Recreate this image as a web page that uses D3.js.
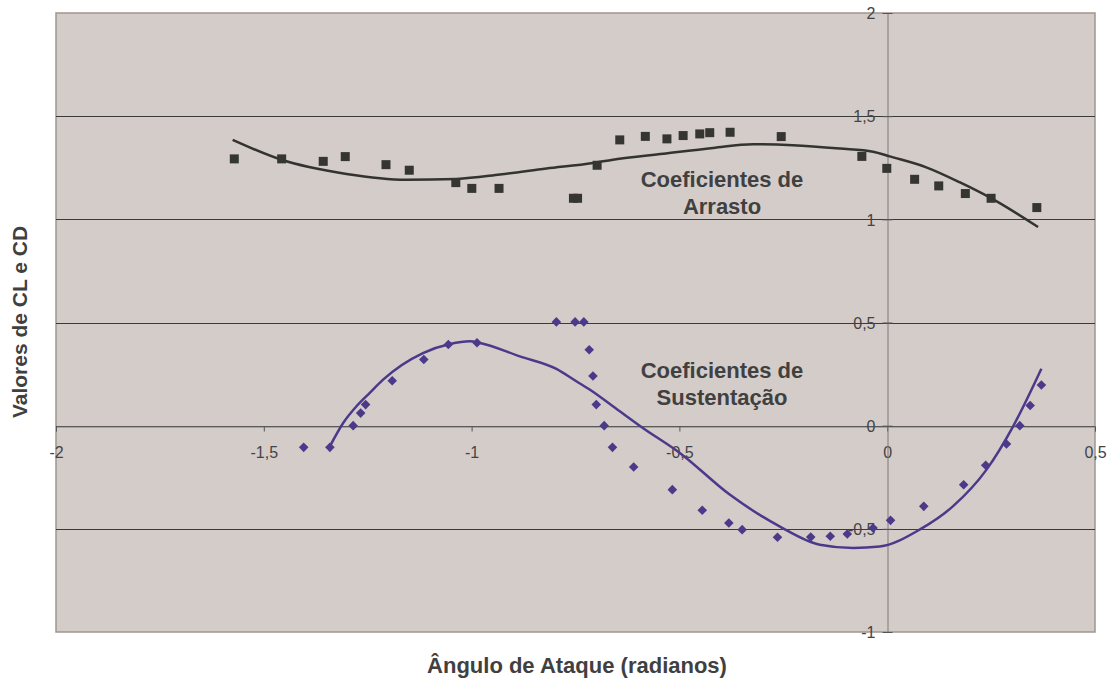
<!DOCTYPE html>
<html><head><meta charset="utf-8">
<script src="https://cdn.jsdelivr.net/npm/d3@7/dist/d3.min.js"></script>
<style>body{margin:0;background:#fff}svg{display:block}text{font-family:"Liberation Sans",Arial,sans-serif}</style>
</head><body><svg id="c" width="1113" height="679"></svg>
<script>
// Drag coefficient measurements (x: angle rad, y: CD)
const dragX = [-1.571,-1.457,-1.357,-1.304,-1.206,-1.150,-1.038,-0.9995,-0.934,-0.755,-0.745,-0.698,-0.6435,-0.582,-0.530,-0.491,-0.451,-0.427,-0.378,-0.255,-0.061,-0.001,0.066,0.124,0.188,0.250,0.360];
const dragY = [1.293,1.293,1.281,1.304,1.265,1.238,1.178,1.150,1.150,1.102,1.102,1.262,1.385,1.402,1.390,1.406,1.414,1.420,1.422,1.401,1.305,1.247,1.194,1.162,1.125,1.102,1.057];
// Drag trendline
const dragTrendX = [-1.575,-1.461,-1.301,-1.157,-1.036,-0.932,-0.820,-0.708,-0.660,-0.539,-0.419,-0.323,-0.227,-0.114,-0.034,0.006,0.094,0.174,0.254,0.363];
const dragTrendY = [1.385,1.291,1.220,1.192,1.196,1.217,1.246,1.273,1.289,1.318,1.346,1.364,1.359,1.343,1.328,1.305,1.252,1.180,1.098,0.963];
// Lift coefficient measurements
const liftX = [-1.404,-1.341,-1.285,-1.267,-1.255,-1.191,-1.115,-1.056,-0.987,-0.796,-0.751,-0.730,-0.717,-0.708,-0.700,-0.681,-0.661,-0.610,-0.517,-0.445,-0.381,-0.349,-0.264,-0.184,-0.137,-0.096,-0.034,0.008,0.088,0.184,0.237,0.287,0.319,0.344,0.371];
const liftY = [-0.105,-0.105,0.0,0.061,0.102,0.218,0.321,0.393,0.402,0.503,0.503,0.503,0.368,0.241,0.102,0.0,-0.105,-0.200,-0.310,-0.410,-0.472,-0.504,-0.541,-0.540,-0.536,-0.525,-0.496,-0.459,-0.391,-0.286,-0.192,-0.089,0.0,0.098,0.197];
// Lift trendline
const liftTrendX = [-1.341,-1.309,-1.277,-1.245,-1.213,-1.117,-1.052,-1.004,-0.980,-0.884,-0.796,-0.748,-0.716,-0.660,-0.588,-0.499,-0.379,-0.259,-0.162,-0.082,-0.018,0.078,0.158,0.239,0.303,0.371];
const liftTrendY = [-0.100,0.013,0.094,0.159,0.223,0.352,0.396,0.409,0.401,0.336,0.275,0.215,0.175,0.094,-0.011,-0.132,-0.334,-0.488,-0.577,-0.593,-0.586,-0.504,-0.391,-0.213,-0.003,0.276];
const xTicks = [-2,-1.5,-1,-0.5,0,0.5];
const yTicks = [-1,-0.5,0,0.5,1,1.5,2];
const xTitle = "Ângulo de Ataque (radianos)";
const yTitle = "Valores de CL e CD";
const dragLabel = ["Coeficientes de","Arrasto"];
const liftLabel = ["Coeficientes de","Sustentação"];

const svg = d3.select("#c");
const L=56, R=1095, T=13, B=632;
const x = d3.scaleLinear().domain([-2,0.5]).range([L,R]);
const y = d3.scaleLinear().domain([-1,2]).range([B,T]);
const fmt = d => String(d).replace(".", ",");

svg.append("rect").attr("x",L).attr("y",T).attr("width",R-L).attr("height",B-T)
  .attr("fill","#d4ccc9").attr("stroke","#a0958e").attr("stroke-width",1.5);

// gridlines
svg.append("g").selectAll("line").data(yTicks.filter(d=>d>-1&&d<2)).join("line")
  .attr("x1",L).attr("x2",R).attr("y1",d=>Math.round(y(d))+0.5).attr("y2",d=>Math.round(y(d))+0.5)
  .attr("stroke","#3a3a3a").attr("stroke-width",1);

// x axis at y=0
const xa = svg.append("g").attr("transform",`translate(0,${Math.round(y(0))+0.5})`)
  .call(d3.axisBottom(x).tickValues(xTicks).tickFormat(fmt).tickSize(5).tickPadding(0));
xa.select(".domain").attr("stroke","#7a7a7a");
xa.selectAll(".tick line").attr("stroke","#555");
xa.selectAll("text").style("font-size","16px").attr("fill","#444").attr("y",31).attr("dy",0);

// y axis at x=0
const ya = svg.append("g").attr("transform",`translate(${Math.round(x(0))+0.5},0)`)
  .call(d3.axisLeft(y).tickValues(yTicks).tickFormat(fmt).tickSizeInner(5).tickSizeOuter(0).tickPadding(0));
ya.select(".domain").attr("stroke","#7a7a7a");
ya.selectAll(".tick line").attr("stroke","#555").attr("x2",5).attr("x1",-5);
ya.selectAll("text").style("font-size","16px").attr("fill","#444").attr("x",-12).attr("dy","0.36em");

const line = d3.line().x(d=>x(d[0])).y(d=>y(d[1])).curve(d3.curveMonotoneX);

// Drag
svg.append("path").datum(dragTrendX.map((v,i)=>[v,dragTrendY[i]])).attr("d",line)
  .attr("fill","none").attr("stroke","#333330").attr("stroke-width",2.5);
svg.append("g").selectAll("rect").data(dragX.map((v,i)=>[v,dragY[i]])).join("rect")
  .attr("x",d=>x(d[0])-4.5).attr("y",d=>y(d[1])-4.5).attr("width",9).attr("height",9)
  .attr("fill","#353632");

// Lift
svg.append("path").datum(liftTrendX.map((v,i)=>[v,liftTrendY[i]])).attr("d",line)
  .attr("fill","none").attr("stroke","#4b3a8a").attr("stroke-width",2.5);
const diamond = d3.symbol().type(d3.symbolSquare).size(46);
svg.append("g").selectAll("path").data(liftX.map((v,i)=>[v,liftY[i]])).join("path")
  .attr("d",diamond).attr("transform",d=>`translate(${x(d[0])},${y(d[1])}) rotate(45)`)
  .attr("fill","#4b3a8a");

// labels
function label(lines, cx, cy){
  const t = svg.append("text").attr("text-anchor","middle").style("font-size","22px")
    .attr("font-weight","bold").attr("fill","#404040");
  lines.forEach((s,i)=>t.append("tspan").attr("x",cx).attr("y",cy+i*27).text(s));
}
label(dragLabel, 722, 187);
label(liftLabel, 722, 378);

svg.append("text").attr("x",577).attr("y",673).attr("text-anchor","middle").style("font-size","22px")
  .attr("font-weight","bold").attr("fill","#404040").text(xTitle);
svg.append("text").attr("transform","translate(27,322) rotate(-90)").attr("text-anchor","middle")
  .style("font-size","21px").attr("font-weight","bold").attr("fill","#404040").text(yTitle);
</script></body></html>
